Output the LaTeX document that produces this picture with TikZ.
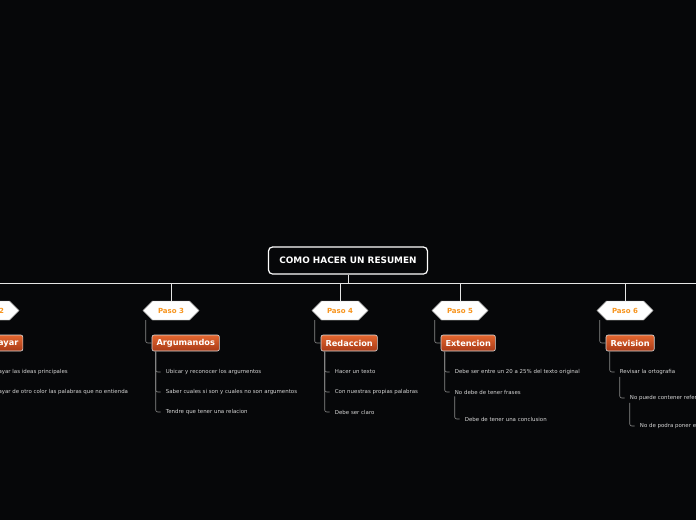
\documentclass[tikz,border=0pt]{standalone}
\usepackage{fontspec}
\setmainfont{DejaVu Sans}
\usetikzlibrary{shapes.symbols}
\definecolor{fondo}{HTML}{060709}
\definecolor{naranja}{HTML}{F7941D}
\definecolor{temaA}{HTML}{E4672F}
\definecolor{temaB}{HTML}{A93A17}
\definecolor{gris}{HTML}{D6D6D6}
\definecolor{lineagris}{HTML}{8A8A8A}
\tikzset{
  raiz/.style={draw=white, line width=1.2pt, rounded corners=4pt, fill=fondo, text=white,
    font=\bfseries\fontsize{8.9}{10}\selectfont, minimum width=159pt, minimum height=27pt},
  paso/.style={signal, signal to=east and west, draw=gray!70, fill=white, text=naranja,
    font=\bfseries\fontsize{7}{8}\selectfont, minimum width=56pt, minimum height=19pt, inner sep=1pt},
  tema/.style={draw=white!85!black, line width=.6pt, rounded corners=2pt, top color=temaA,
    bottom color=temaB, text=white, font=\bfseries\fontsize{8.2}{9}\selectfont,
    minimum height=16pt, inner xsep=4.5pt, inner ysep=0pt, anchor=west},
  idea/.style={text=gris, font=\fontsize{5.45}{6}\selectfont, inner xsep=5pt, inner ysep=2pt, anchor=west},
  linea/.style={draw=lineagris, line width=.6pt, rounded corners=2pt},
  bus/.style={draw=white!90!black, line width=.8pt}
}
\begin{document}
\begin{tikzpicture}[x=1pt, y=-1pt]
\useasboundingbox (0,0) rectangle (696,520);
\fill[fondo] (0,0) rectangle (696,520);
\clip (0,0) rectangle (696,520);
\node[raiz] (raiz) at (348,260.5) {COMO HACER UN RESUMEN};
\coordinate (busL) at (-60,283);
\coordinate (busR) at (760,283);
\draw[bus] (raiz.south) -- (raiz.south |- busL);
\draw[bus] (busL) -- (busR);
% pasos y temas
\foreach \n/\x/\t in {2/-9/Subrayar,3/171/Argumandos,4/340/Redaccion,5/460/Extencion,6/625/Revision}{
  \node[paso] (p\n) at (\x,310.5) {Paso \n};
  \draw[bus] (p\n.north |- busL) -- (p\n.north);
  \node[tema] (t\n) at ([xshift=9]p\n.west |- 0,343) {\t};
  \draw[linea] ([xshift=3]p\n.west |- p\n.south) |- (t\n.west);
}
% ideas
\foreach \n/\k/\y/\s in {2/1/372/Subrayar las ideas principales,
    2/2/392/Subrayar de otro color las palabras que no entienda,
    3/1/372/Ubicar y reconocer los argumentos,
    3/2/392/Saber cuales si son y cuales no son argumentos,
    3/3/412/Tendre que tener una relacion,
    4/1/372/Hacer un texto,
    4/2/392/Con nuestras propias palabras,
    4/3/412/Debe ser claro,
    5/1/372/Debe ser entre un 20 a 25\% del texto original,
    5/2/392/No debe de tener frases,
    6/1/372/Revisar la ortografia}{
  \node[idea] (i\n\k) at ([xshift=9]t\n.west |- 0,\y) {\s};
  \draw[linea] ([xshift=4]t\n.south west) |- (i\n\k.west);
}
\node[idea] (i53) at ([xshift=10]i52.west |- 0,419) {Debe de tener una conclusion};
\draw[linea] ([xshift=5]i52.south west) |- (i53.west);
\node[idea] (i62) at ([xshift=10]i61.west |- 0,398) {No puede contener referencias};
\draw[linea] ([xshift=5]i61.south west) |- (i62.west);
\node[idea] (i63) at ([xshift=10]i62.west |- 0,426) {No de podra poner ejemplos};
\draw[linea] ([xshift=5]i62.south west) |- (i63.west);
\end{tikzpicture}
\end{document}
